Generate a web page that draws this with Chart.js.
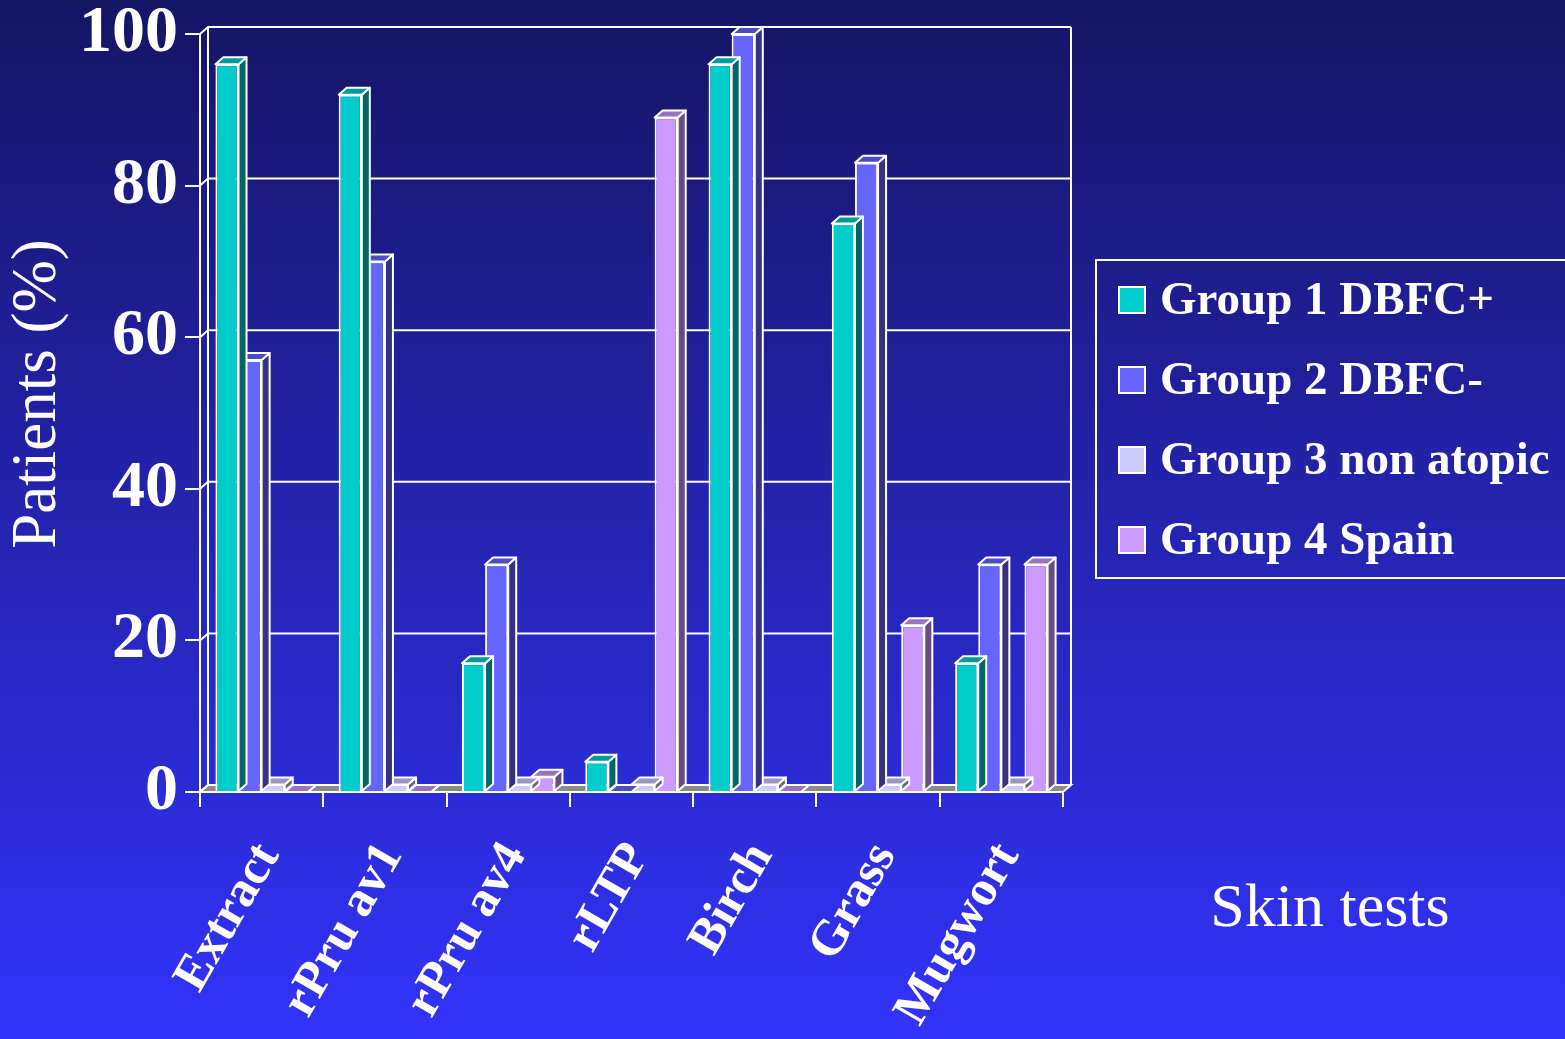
<!DOCTYPE html>
<html>
<head>
<meta charset="utf-8">
<script src="https://cdn.jsdelivr.net/npm/chart.js@4.4.1/dist/chart.umd.min.js"></script>
<style>
  html, body { margin: 0; padding: 0; background: #2a2acc; }
  #wrap { width: 1565px; height: 1039px; }
</style>
</head>
<body>
<div id="wrap"><canvas id="chart" width="1565" height="1039"></canvas></div>
<script>
var categories = ['Extract', 'rPru av1', 'rPru av4', 'rLTP', 'Birch', 'Grass', 'Mugwort'];
var group1 = [96, 92, 17, 4, 96, 75, 17];
var group2 = [57, 70, 30, 0, 100, 83, 30];
var group3 = [1, 1, 1, 1, 1, 1, 1];
var group4 = [0, 0, 2, 89, 0, 22, 30];
var seriesNames = ['Group 1 DBFC+', 'Group 2 DBFC-', 'Group 3 non atopic', 'Group 4 Spain'];

var frontColors = ['#00cccc', '#6666ff', '#ccccff', '#cc99ff'];
var topColors = ['#009999', '#4c4cbf', '#9999bf', '#9973bf'];
var sideColors = ['#006666', '#333380', '#666680', '#664c80'];

var DX = 8, DY = 7;
var serif = '"Liberation Serif", "DejaVu Serif", serif';

// gradient background
var background = {
    id: 'background',
    beforeDraw: function(chart) {
        var ctx = chart.ctx;
        var g = ctx.createLinearGradient(0, 0, 0, chart.height);
        g.addColorStop(0, '#151565');
        g.addColorStop(1, '#3333fb');
        ctx.save();
        ctx.fillStyle = g;
        ctx.fillRect(0, 0, chart.width, chart.height);
        ctx.restore();
    }
};

// back wall, floor and grid lines
var walls = {
    id: 'walls',
    beforeDatasetsDraw: function(chart) {
        var ctx = chart.ctx, a = chart.chartArea, ys = chart.scales.y;
        var L = a.left, R = a.right, B = a.bottom, T = a.top;
        ctx.save();
        ctx.strokeStyle = '#ffffff';
        ctx.lineWidth = 2;
        // floor
        ctx.fillStyle = '#8a8a8a';
        ctx.beginPath();
        ctx.moveTo(L, B); ctx.lineTo(R, B); ctx.lineTo(R + DX, B - DY); ctx.lineTo(L + DX, B - DY);
        ctx.closePath();
        ctx.fill(); ctx.stroke();
        // grid on back wall
        ys.ticks.forEach(function(t) {
            var y = ys.getPixelForValue(t.value);
            ctx.beginPath();
            ctx.moveTo(L, y); ctx.lineTo(L + DX, y - DY); ctx.lineTo(R + DX, y - DY);
            ctx.stroke();
        });
        ctx.beginPath();
        ctx.moveTo(L + DX, T - DY); ctx.lineTo(L + DX, B - DY);
        ctx.moveTo(R + DX, T - DY); ctx.lineTo(R + DX, B - DY);
        ctx.stroke();
        ctx.restore();
    }
};

// top and side faces of each bar
var bars3d = {
    id: 'bars3d',
    afterDatasetDraw: function(chart, args) {
        var ctx = chart.ctx, i = args.index;
        ctx.save();
        ctx.strokeStyle = '#ffffff';
        ctx.lineWidth = 2;
        ctx.lineJoin = 'round';
        args.meta.data.forEach(function(el) {
            var p = el.getProps(['x', 'y', 'base', 'width'], true);
            var l = p.x - p.width / 2, r = p.x + p.width / 2;
            var top = Math.min(p.y, p.base), bot = Math.max(p.y, p.base);
            ctx.fillStyle = sideColors[i];
            ctx.beginPath();
            ctx.moveTo(r, top); ctx.lineTo(r + DX, top - DY); ctx.lineTo(r + DX, bot - DY); ctx.lineTo(r, bot);
            ctx.closePath(); ctx.fill(); ctx.stroke();
            ctx.fillStyle = topColors[i];
            ctx.beginPath();
            ctx.moveTo(l, top); ctx.lineTo(l + DX, top - DY); ctx.lineTo(r + DX, top - DY); ctx.lineTo(r, top);
            ctx.closePath(); ctx.fill(); ctx.stroke();
        });
        ctx.restore();
    }
};

// legend box, axis titles
var extras = {
    id: 'extras',
    afterDraw: function(chart) {
        var ctx = chart.ctx;
        ctx.save();
        ctx.strokeStyle = '#ffffff';
        ctx.lineWidth = 2;
        ctx.strokeRect(1096, 260, 480, 318);
        ctx.font = 'bold 47px ' + serif;
        ctx.textBaseline = 'middle';
        chart.data.datasets.forEach(function(ds, k) {
            var cy = 300 + k * 80;
            ctx.fillStyle = frontColors[k];
            ctx.fillRect(1119, cy - 13, 26, 26);
            ctx.strokeRect(1119, cy - 13, 26, 26);
            ctx.fillStyle = '#ffffff';
            ctx.fillText(ds.label, 1160, cy + 2);
        });
        ctx.font = '62px ' + serif;
        ctx.textAlign = 'center';
        ctx.fillText('Skin tests', 1330, 910);
        // y axis title
        ctx.translate(38, 394);
        ctx.rotate(-Math.PI / 2);
        ctx.font = '63px ' + serif;
        ctx.fillText('Patients (%)', 0, 0);
        ctx.restore();
    }
};

var datasets = [group1, group2, group3, group4].map(function(vals, k) {
    return {
        label: seriesNames[k],
        data: vals,
        backgroundColor: frontColors[k],
        borderColor: '#ffffff',
        borderWidth: 2,
        categoryPercentage: 0.75,
        barPercentage: 1.0
    };
});

new Chart(document.getElementById('chart'), {
    type: 'bar',
    data: { labels: categories, datasets: datasets },
    options: {
        responsive: false,
        animation: false,
        devicePixelRatio: 1,
        layout: { padding: { top: 34, right: 502, left: 0, bottom: 0 } },
        plugins: { legend: { display: false }, tooltip: { enabled: false } },
        scales: {
            x: {
                afterFit: function(s) { s.height = 247; },
                grid: { drawOnChartArea: false, color: '#ffffff', lineWidth: 2, tickLength: 15, offset: true },
                border: { color: '#ffffff', width: 2 },
                ticks: {
                    color: '#ffffff', minRotation: 60, maxRotation: 60, padding: 26, labelOffset: 7,
                    font: { family: serif, size: 50, weight: 'bold' }
                }
            },
            y: {
                min: 0, max: 100,
                afterFit: function(s) { s.width = 200; },
                grid: { drawOnChartArea: false, color: '#ffffff', lineWidth: 2, tickLength: 15 },
                border: { color: '#ffffff', width: 2 },
                ticks: {
                    stepSize: 20, color: '#ffffff', padding: 7,
                    font: { family: serif, size: 66, weight: 'bold', lineHeight: 0.8 }
                }
            }
        }
    },
    plugins: [background, walls, bars3d, extras]
});
</script>
</body>
</html>
